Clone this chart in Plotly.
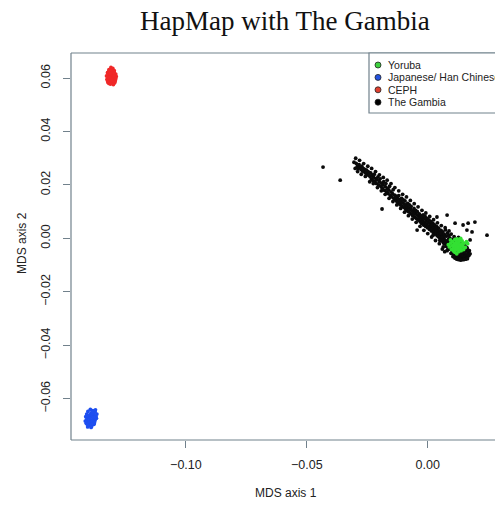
import plotly.graph_objects as go

# ---------------- data (MDS coordinates) ----------------
gambia_x = [
    -0.0305, -0.0300, -0.0296, -0.0291, -0.0288, -0.0284, -0.0280, -0.0276, -0.0273, -0.0270,
    -0.0267, -0.0263, -0.0260, -0.0256, -0.0253, -0.0250, -0.0247, -0.0244, -0.0241, -0.0238,
    -0.0236, -0.0233, -0.0230, -0.0227, -0.0224, -0.0221, -0.0218, -0.0215, -0.0212, -0.0209,
    -0.0206, -0.0203, -0.0200, -0.0197, -0.0194, -0.0191, -0.0188, -0.0185, -0.0182, -0.0179,
    -0.0176, -0.0173, -0.0170, -0.0167, -0.0164, -0.0161, -0.0158, -0.0155, -0.0152, -0.0149,
    -0.0146, -0.0143, -0.0140, -0.0137, -0.0134,
    -0.0131, -0.0129, -0.0127, -0.0124, -0.0122, -0.0120, -0.0118, -0.0115, -0.0113, -0.0111,
    -0.0108, -0.0106, -0.0104, -0.0101, -0.0099, -0.0097, -0.0094, -0.0092, -0.0090, -0.0087,
    -0.0085, -0.0083, -0.0080, -0.0078, -0.0076, -0.0073, -0.0071, -0.0069, -0.0066, -0.0064,
    -0.0062, -0.0059, -0.0057, -0.0055, -0.0052, -0.0050, -0.0048, -0.0045, -0.0043, -0.0041,
    -0.0039, -0.0037, -0.0035, -0.0033, -0.0031, -0.0029, -0.0027, -0.0025, -0.0023, -0.0021,
    -0.0019, -0.0017, -0.0015, -0.0013, -0.0011, -0.0009, -0.0007, -0.0005, -0.0003, -0.0001,
    0.0001, 0.0003, 0.0005, 0.0007, 0.0009, 0.0011, 0.0013, 0.0015, 0.0017, 0.0019,
    0.0021, 0.0023, 0.0025, 0.0027, 0.0029, 0.0031, 0.0033, 0.0035, 0.0037, 0.0039,
    0.0041, 0.0043, 0.0045, 0.0047, 0.0049,
    0.0051, 0.0053, 0.0055, 0.0057, 0.0059, 0.0061, 0.0063, 0.0065, 0.0067, 0.0069,
    0.0071, 0.0073, 0.0075, 0.0077, 0.0079, 0.0081, 0.0083, 0.0085, 0.0087, 0.0089,
    0.0091, 0.0093, 0.0095, 0.0097, 0.0099, 0.0101, 0.0103, 0.0105, 0.0107, 0.0109,
    0.0111, 0.0113, 0.0115, 0.0117, 0.0119, 0.0121, 0.0123, 0.0125, 0.0127, 0.0129,
    0.0131, 0.0133, 0.0135, 0.0137, 0.0139, 0.0141, 0.0143, 0.0145, 0.0147, 0.0149,
    0.0151, 0.0153, 0.0155, 0.0157, 0.0159, 0.0161, 0.0163, 0.0165, 0.0167, 0.0170,
    0.0172, 0.0175,
    0.0060, 0.0068, 0.0076, 0.0084, 0.0092, 0.0100, 0.0108, 0.0116, 0.0124, 0.0132,
    0.0140, 0.0148, 0.0156, 0.0164, 0.0110, 0.0118, 0.0126, 0.0134, 0.0142, 0.0150,
    0.0158, 0.0166, 0.0098, 0.0090, 0.0082, 0.0074, 0.0066, 0.0058, 0.0050, 0.0044,
    -0.0298, -0.0290, -0.0282, -0.0275, -0.0265, -0.0258, -0.0248, -0.0240, -0.0232, -0.0225,
    -0.0216, -0.0208, -0.0200, -0.0192, -0.0184, -0.0176, -0.0168, -0.0160, -0.0152, -0.0144,
    -0.0136, -0.0128, -0.0120, -0.0112, -0.0104, -0.0096, -0.0088, -0.0080, -0.0072, -0.0064,
    -0.0056, -0.0048, -0.0040, -0.0032, -0.0024, -0.0016, -0.0008, 0.0000, 0.0008, 0.0016,
    0.0024, 0.0032, 0.0040, 0.0048, 0.0056, 0.0064, 0.0072, 0.0080, 0.0088, 0.0096,
    0.0104, 0.0112, 0.0120, 0.0128, 0.0136, 0.0060, 0.0070, 0.0052, 0.0034, 0.0018,
    -0.0433, -0.0362, -0.0189, -0.0044, 0.0022, 0.0038, 0.0080, 0.0113, 0.0146, 0.0167,
    0.0195, 0.0162, 0.0183, 0.0175, 0.0245,
]
gambia_y = [
    0.0285, 0.0262, 0.0281, 0.0270, 0.0262, 0.0276, 0.0266, 0.0258, 0.0270, 0.0252,
    0.0262, 0.0249, 0.0258, 0.0244, 0.0255, 0.0240, 0.0250, 0.0236, 0.0246, 0.0231,
    0.0245, 0.0222, 0.0238, 0.0216, 0.0229, 0.0240, 0.0212, 0.0224, 0.0205, 0.0219,
    0.0230, 0.0200, 0.0212, 0.0223, 0.0195, 0.0207, 0.0188, 0.0201, 0.0212, 0.0180,
    0.0194, 0.0205, 0.0174, 0.0187, 0.0168, 0.0181, 0.0195, 0.0160, 0.0174, 0.0155,
    0.0167, 0.0182, 0.0150, 0.0162, 0.0145,
    0.0158, 0.0140, 0.0152, 0.0135, 0.0148, 0.0160, 0.0130, 0.0143, 0.0125, 0.0138,
    0.0150, 0.0120, 0.0133, 0.0144, 0.0116, 0.0128, 0.0140, 0.0110, 0.0123, 0.0105,
    0.0118, 0.0131, 0.0100, 0.0113, 0.0125, 0.0095, 0.0108, 0.0120, 0.0090, 0.0103,
    0.0085, 0.0098, 0.0112, 0.0080, 0.0093, 0.0105, 0.0075, 0.0088, 0.0100, 0.0070,
    0.0083, 0.0068, 0.0092, 0.0076, 0.0062, 0.0085, 0.0070, 0.0056, 0.0079, 0.0064,
    0.0088, 0.0050, 0.0073, 0.0058, 0.0082, 0.0045, 0.0066, 0.0052, 0.0075, 0.0040,
    0.0060, 0.0046, 0.0069, 0.0034, 0.0054, 0.0040, 0.0063, 0.0028, 0.0048, 0.0034,
    0.0057, 0.0022, 0.0042, 0.0028, 0.0050, 0.0016, 0.0036, 0.0022, 0.0044, 0.0010,
    0.0030, 0.0016, 0.0038, 0.0004, 0.0024,
    0.0010, -0.0004, 0.0030, 0.0018, -0.0010, 0.0006, 0.0024, -0.0016, 0.0000, 0.0014,
    -0.0008, 0.0032, -0.0022, 0.0008, -0.0012, 0.0020, -0.0028, -0.0004, 0.0012, -0.0018,
    0.0002, -0.0034, -0.0010, 0.0016, -0.0024, -0.0040, -0.0004, -0.0016, -0.0046, 0.0006,
    -0.0030, -0.0052, -0.0010, -0.0038, -0.0058, -0.0020, -0.0044, -0.0062, 0.0004, -0.0034,
    -0.0054, -0.0066, -0.0016, -0.0046, -0.0060, -0.0070, -0.0028, -0.0052, -0.0064, -0.0074,
    -0.0040, -0.0058, -0.0068, -0.0048, -0.0076, -0.0062, -0.0036, -0.0070, -0.0054, -0.0064,
    -0.0046, -0.0058,
    -0.0002, -0.0020, -0.0030, -0.0014, -0.0026, -0.0052, -0.0060, -0.0066, -0.0072, -0.0076,
    -0.0080, -0.0080, -0.0078, -0.0076, -0.0022, -0.0012, -0.0026, -0.0036, -0.0044, -0.0024,
    -0.0032, -0.0044, -0.0006, -0.0040, -0.0042, -0.0010, 0.0010, 0.0004, -0.0008, 0.0008,
    0.0300, 0.0250, 0.0292, 0.0240, 0.0280, 0.0232, 0.0270, 0.0212, 0.0262, 0.0205,
    0.0250, 0.0190, 0.0238, 0.0178, 0.0228, 0.0165, 0.0218, 0.0150, 0.0205, 0.0138,
    0.0190, 0.0125, 0.0178, 0.0112, 0.0165, 0.0098, 0.0155, 0.0085, 0.0142, 0.0072,
    0.0130, 0.0060, 0.0118, 0.0045, 0.0105, 0.0030, 0.0095, 0.0018, 0.0082, 0.0005,
    0.0070, -0.0008, 0.0058, -0.0020, 0.0048, -0.0032, 0.0040, -0.0046, 0.0028, -0.0056,
    -0.0068, -0.0074, -0.0078, -0.0080, -0.0081, -0.0040, -0.0050, 0.0020, 0.0040, 0.0050,
    0.0267, 0.0218, 0.0110, 0.0031, 0.0012, 0.0080, 0.0087, 0.0057, 0.0050, 0.0057,
    0.0061, 0.0031, 0.0024, -0.0006, 0.0012,
]

yoruba_x = [
    0.0121, 0.0110, 0.0130, 0.0115, 0.0128, 0.0100, 0.0140, 0.0118, 0.0124, 0.0105,
    0.0135, 0.0112, 0.0132, 0.0095, 0.0145, 0.0108, 0.0128, 0.0090, 0.0150, 0.0118,
    0.0126, 0.0103, 0.0138, 0.0115, 0.0122, 0.0085, 0.0155, 0.0098, 0.0142, 0.0133,
    0.0107, 0.0116, 0.0125, 0.0160, 0.0094, 0.0148, 0.0112, 0.0136, 0.0120, 0.0165,
]
yoruba_y = [
    -0.0025, -0.0020, -0.0030, -0.0035, -0.0015, -0.0028, -0.0022, -0.0010, -0.0040, -0.0038,
    -0.0038, -0.0004, -0.0008, -0.0018, -0.0030, -0.0048, -0.0050, -0.0032, -0.0018, -0.0028,
    -0.0022, -0.0012, -0.0046, -0.0044, -0.0002, -0.0024, -0.0034, -0.0042, -0.0010, -0.0026,
    -0.0026, -0.0018, -0.0033, -0.0012, -0.0006, -0.0042, -0.0052, 0.0000, -0.0058, -0.0020,
]

ceph_x = [
    -0.1310, -0.1302, -0.1318, -0.1296, -0.1310, -0.1324, -0.1300, -0.1290, -0.1315, -0.1305,
    -0.1322, -0.1295, -0.1310, -0.1326, -0.1300, -0.1316, -0.1292, -0.1306, -0.1322, -0.1298,
    -0.1312, -0.1320, -0.1304, -0.1314, -0.1288, -0.1328, -0.1308, -0.1318, -0.1294, -0.1302,
    -0.1316, -0.1308, -0.1298, -0.1320, -0.1306, -0.1290, -0.1312, -0.1324, -0.1300, -0.1296,
]
ceph_y = [
    0.0640, 0.0636, 0.0632, 0.0628, 0.0625, 0.0620, 0.0618, 0.0615, 0.0612, 0.0608,
    0.0604, 0.0602, 0.0600, 0.0596, 0.0594, 0.0590, 0.0590, 0.0586, 0.0584, 0.0580,
    0.0578, 0.0612, 0.0622, 0.0596, 0.0606, 0.0608, 0.0632, 0.0580, 0.0584, 0.0598,
    0.0604, 0.0614, 0.0610, 0.0624, 0.0592, 0.0598, 0.0618, 0.0590, 0.0576, 0.0620,
]

jpt_x = [
    -0.1395, -0.1385, -0.1405, -0.1375, -0.1392, -0.1410, -0.1380, -0.1398, -0.1414, -0.1388,
    -0.1372, -0.1402, -0.1382, -0.1410, -0.1394, -0.1376, -0.1404, -0.1386, -0.1396, -0.1412,
    -0.1380, -0.1400, -0.1390, -0.1406, -0.1384, -0.1396, -0.1408, -0.1390, -0.1402, -0.1370,
    -0.1368, -0.1398, -0.1388, -0.1378, -0.1416, -0.1394, -0.1386, -0.1374, -0.1408, -0.1392,
]
jpt_y = [
    -0.0640, -0.0645, -0.0648, -0.0650, -0.0654, -0.0658, -0.0660, -0.0664, -0.0668, -0.0668,
    -0.0666, -0.0672, -0.0676, -0.0678, -0.0680, -0.0682, -0.0686, -0.0688, -0.0694, -0.0692,
    -0.0696, -0.0700, -0.0704, -0.0706, -0.0670, -0.0660, -0.0662, -0.0684, -0.0690, -0.0674,
    -0.0658, -0.0674, -0.0656, -0.0690, -0.0684, -0.0698, -0.0650, -0.0642, -0.0696, -0.0708,
]

legend_labels = ["Yoruba", "Japanese/ Han Chinese", "CEPH", "The Gambia"]
legend_colors = ["#3fd13f", "#2453e0", "#e0402f", "#000000"]

x_ticks = [-0.10, -0.05, 0.00]
x_tick_text = ["\u22120.10", "\u22120.05", "0.00"]
y_ticks = [-0.06, -0.04, -0.02, 0.00, 0.02, 0.04, 0.06]
y_tick_text = ["\u22120.06", "\u22120.04", "\u22120.02", "0.00", "0.02", "0.04", "0.06"]

# ---------------- figure ----------------
W, H = 495, 506
L, R, T, B = 71, 0, 53, 66
PW, PH = W - L - R, H - T - B
FRAME = "#71818c"
SANS = "Liberation Sans, Arial, sans-serif"


def px(xp):
    return (xp - L) / PW


def py(yp):
    return (H - B - yp) / PH


fig = go.Figure()
mk = dict(size=3.8, line=dict(width=0))
fig.add_trace(go.Scatter(x=gambia_x, y=gambia_y, mode="markers",
                         marker=dict(color="#0a0a0a", **mk), showlegend=False))
fig.add_trace(go.Scatter(x=yoruba_x, y=yoruba_y, mode="markers",
                         marker=dict(color="#33e033", **mk), showlegend=False))
fig.add_trace(go.Scatter(x=ceph_x, y=ceph_y, mode="markers",
                         marker=dict(color="#f02828", **mk), showlegend=False))
fig.add_trace(go.Scatter(x=jpt_x, y=jpt_y, mode="markers",
                         marker=dict(color="#1d4ef0", **mk), showlegend=False))

shapes = [
    dict(type="line", xref="paper", yref="paper", x0=0, x1=1.05, y0=1, y1=1,
         line=dict(color=FRAME, width=1.2)),
    dict(type="line", xref="paper", yref="paper", x0=0, x1=1.05, y0=0, y1=0,
         line=dict(color=FRAME, width=1.2)),
    dict(type="line", xref="paper", yref="paper", x0=0, x1=0, y0=0, y1=1,
         line=dict(color=FRAME, width=1.2)),
    # legend box
    dict(type="rect", xref="paper", yref="paper", x0=px(369), x1=1.05, y0=py(113), y1=1,
         line=dict(color=FRAME, width=1.2), fillcolor="white", layer="above"),
]
annotations = []
for i, (lab, col) in enumerate(zip(legend_labels, legend_colors)):
    yc = 65 + i * 12.4
    shapes.append(dict(type="circle", xref="paper", yref="paper",
                       xsizemode="pixel", ysizemode="pixel",
                       xanchor=px(378), yanchor=py(yc), x0=-3, x1=3, y0=-3, y1=3,
                       fillcolor=col, line=dict(color="#222222", width=0.8), layer="above"))
    annotations.append(dict(text=lab, xref="paper", yref="paper", x=px(386), y=py(yc),
                            xanchor="left", yanchor="middle", showarrow=False,
                            font=dict(family=SANS, size=10.5, color="#222222")))

annotations.append(dict(text="HapMap with The Gambia", xref="paper", yref="paper",
                        x=px(285), y=py(21), xanchor="center", yanchor="middle",
                        showarrow=False,
                        font=dict(family="Liberation Serif, Times New Roman, serif",
                                  size=27, color="#111111")))
annotations.append(dict(text="MDS axis 1", xref="paper", yref="paper",
                        x=px(286), y=py(493), xanchor="center", yanchor="middle",
                        showarrow=False, font=dict(family=SANS, size=12, color="#222222")))
annotations.append(dict(text="MDS axis 2", xref="paper", yref="paper",
                        x=px(22), y=py(243), xanchor="center", yanchor="middle",
                        textangle=-90, showarrow=False,
                        font=dict(family=SANS, size=12, color="#222222")))

fig.update_layout(
    width=W, height=H,
    margin=dict(l=L, r=R, t=T, b=B, pad=0),
    paper_bgcolor="white", plot_bgcolor="white",
    showlegend=False,
    shapes=shapes, annotations=annotations,
    xaxis=dict(range=[-0.1475, 0.0278], tickvals=x_ticks, ticktext=x_tick_text,
               showgrid=False, zeroline=False, showline=False,
               ticks="outside", ticklen=7, tickwidth=1.2, tickcolor=FRAME,
               ticklabelstandoff=6,
               tickfont=dict(family=SANS, size=12.5, color="#222222")),
    yaxis=dict(range=[-0.0755, 0.0694], tickvals=y_ticks, ticktext=y_tick_text,
               showgrid=False, zeroline=False, showline=False,
               ticks="outside", ticklen=7, tickwidth=1.2, tickcolor=FRAME,
               tickangle=-90, ticklabelstandoff=8,
               tickfont=dict(family=SANS, size=12.5, color="#222222")),
)

fig.write_html("out.html")
